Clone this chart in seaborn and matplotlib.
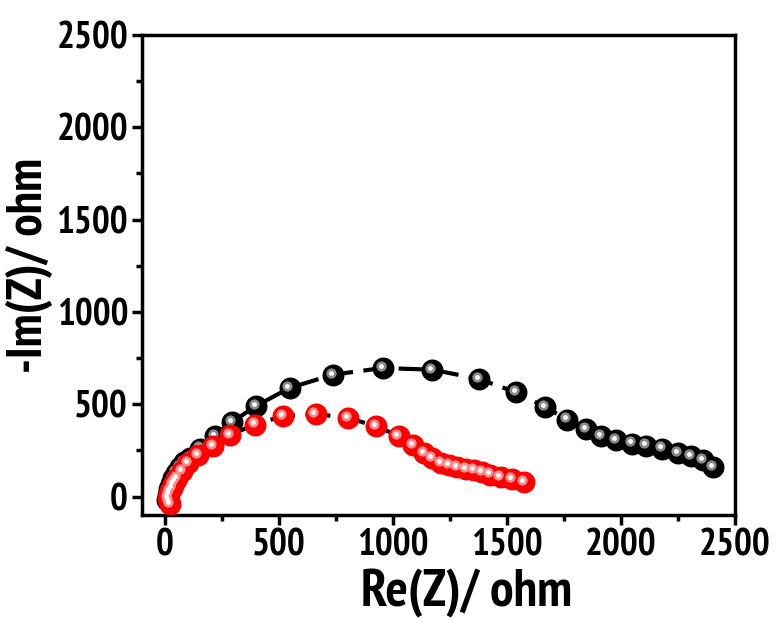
import matplotlib
matplotlib.use('Agg')
import matplotlib.pyplot as plt
import matplotlib.transforms as mtrans
from matplotlib import font_manager
import seaborn as sns
import pandas as pd

# Nyquist data (ohm)
black_re = [10, 14, 20, 28, 38, 50, 65, 85, 111, 154, 220, 293, 402, 547, 737, 955,
            1173, 1377, 1541, 1668, 1763, 1847, 1913, 1978, 2047, 2112, 2182, 2250,
            2309, 2359, 2403]
black_im = [-20, 10, 40, 70, 100, 130, 158, 185, 209, 260, 330, 402, 492, 588, 660, 696,
            687, 637, 564, 485, 417, 366, 330, 305, 287, 276, 260, 236,
            218, 196, 162]

red_re = [22, 18, 16, 18, 23, 30, 38, 45, 52, 74, 103, 144, 210, 288, 394, 518, 661,
          805, 926, 1025, 1088, 1137, 1173, 1210, 1246, 1282, 1319, 1355, 1392, 1428,
          1472, 1523, 1575]
red_im = [-43, -25, -7, 12, 29, 47, 65, 83, 101, 137, 182, 227, 272, 334, 390, 435, 447,
          426, 380, 330, 280, 236, 209, 182, 168, 159, 150, 141, 132, 119,
          107, 96, 80]

xticks = [0, 500, 1000, 1500, 2000, 2500]
yticks = [0, 500, 1000, 1500, 2000, 2500]

names = {f.name for f in font_manager.fontManager.ttflist}
fam = 'Liberation Sans'
for cand in ['PT Sans Narrow', 'Roboto Condensed', 'Archivo Narrow', 'Fira Sans Condensed']:
    if cand in names:
        fam = cand
        break

sns.set_style('white')
plt.rcParams['font.family'] = [fam, 'DejaVu Sans']
plt.rcParams['font.weight'] = 'bold'
for k in ['text.color', 'axes.labelcolor', 'xtick.color', 'ytick.color']:
    plt.rcParams[k] = 'black'

fig, ax = plt.subplots(figsize=(7.78, 6.23), dpi=100)
fig.subplots_adjust(left=0.1825, right=0.9447, bottom=0.1734, top=0.9438)

df_b = pd.DataFrame({'re': black_re, 'im': black_im})
df_r = pd.DataFrame({'re': red_re, 'im': red_im})

# shine offset for the "ball" look
shine = ax.transData + mtrans.ScaledTranslation(-1.5 / 72, 1.5 / 72, fig.dpi_scale_trans)

for df in [df_b, df_r]:
    sns.lineplot(data=df, x='re', y='im', sort=False, color='black', lw=3,
                 linestyle=(0, (6, 2.5)), ax=ax, zorder=2)
for df, col, mid in [(df_b, 'black', '#8a8a8a'), (df_r, 'red', '#ff8a8a')]:
    sns.scatterplot(data=df, x='re', y='im', color=col, s=250, linewidth=0, ax=ax, zorder=3)
    sns.scatterplot(data=df, x='re', y='im', color=mid, s=55, linewidth=0, ax=ax,
                    zorder=3, transform=shine)
    sns.scatterplot(data=df, x='re', y='im', color='white', s=12, linewidth=0, ax=ax,
                    zorder=3, transform=shine)

ax.set_xlim(-100, 2500)
ax.set_ylim(-100, 2500)
ax.set_xticks(xticks)
ax.set_yticks(yticks)
ax.set_xticks([250, 750, 1250, 1750, 2250], minor=True)
ax.set_yticks([250, 750, 1250, 1750, 2250], minor=True)
ax.tick_params(which='major', direction='out', length=7, width=2.5, labelsize=27,
               pad=3, bottom=True, left=True)
ax.tick_params(which='minor', direction='out', length=4, width=2.5, bottom=True, left=True)
for lab in ax.get_xticklabels() + ax.get_yticklabels():
    lab.set_fontweight('bold')
for sp in ax.spines.values():
    sp.set_linewidth(2.5)
    sp.set_color('black')

ax.set_xlabel('Re(Z)/ ohm', fontsize=38, fontweight='bold', labelpad=0)
ax.set_ylabel('-Im(Z)/ ohm', fontsize=36, fontweight='bold', labelpad=2)
ax.xaxis.set_label_coords(0.548, -0.112)
ax.yaxis.set_label_coords(-0.15, 0.52)

plt.savefig('out.png', dpi=100)
